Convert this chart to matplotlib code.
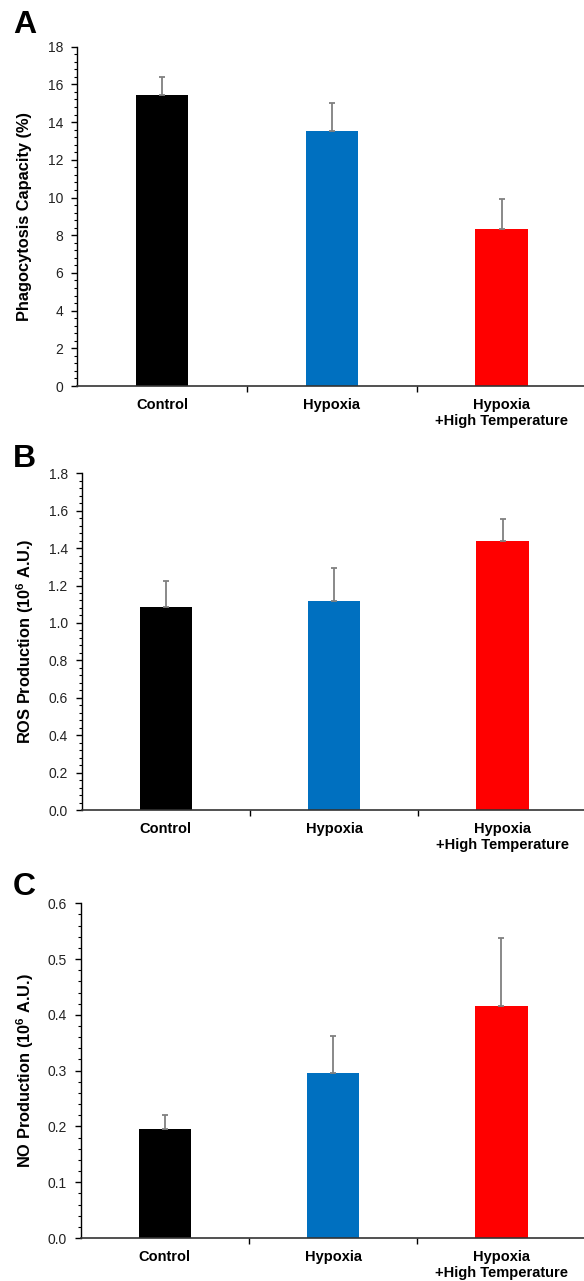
import matplotlib
matplotlib.use("Agg")
import matplotlib.pyplot as plt
from matplotlib.ticker import MultipleLocator

plt.rcParams['font.family'] = ['Liberation Sans', 'DejaVu Sans']
plt.rcParams['mathtext.fontset'] = 'custom'
plt.rcParams['mathtext.rm'] = 'Liberation Sans'
plt.rcParams['mathtext.bf'] = 'Liberation Sans:bold'

categories = ["Control", "Hypoxia", "Hypoxia\n+High Temperature"]
colors = ["#000000", "#0070C0", "#FF0000"]

phago_mean = [15.45, 13.53, 8.31]
phago_err = [0.92, 1.47, 1.59]

ros_mean = [1.084, 1.117, 1.436]
ros_err = [0.140, 0.177, 0.118]

no_mean = [0.195, 0.296, 0.416]
no_err = [0.026, 0.066, 0.122]

W, H = 584, 1281
fig = plt.figure(figsize=(W / 100, H / 100), dpi=100)

panels = [
    dict(letter="A", mean=phago_mean, err=phago_err, ymax=18, major=2, minor=0.4,
         fmt="{:.0f}", ylabel="Phagocytosis Capacity (%)",
         left=77.3, bottom=386, top=46.7, spacing=169.7, letter_base=33),
    dict(letter="B", mean=ros_mean, err=ros_err, ymax=1.8, major=0.2, minor=0.04,
         fmt="{:.1f}", ylabel=r"ROS Production (10$^{\mathbf{6}}$ A.U.)",
         left=81.6, bottom=810, top=473.3, spacing=168.4, letter_base=467),
    dict(letter="C", mean=no_mean, err=no_err, ymax=0.6, major=0.1, minor=0.02,
         fmt="{:.1f}", ylabel=r"NO Production (10$^{\mathbf{6}}$ A.U.)",
         left=80.7, bottom=1238, top=903.3, spacing=168.3, letter_base=895),
]

for p in panels:
    ax = fig.add_axes([p["left"] / W, 1 - p["bottom"] / H,
                       3 * p["spacing"] / W, (p["bottom"] - p["top"]) / H])
    x = list(range(len(categories)))
    ax.bar(x, p["mean"], width=0.31, color=colors, zorder=2)
    ax.errorbar(x, p["mean"], yerr=[[0] * 3, p["err"]], fmt="none",
                ecolor="#808080", elinewidth=1.3, capsize=2.3, capthick=1.3, zorder=3)
    ax.set_xlim(-0.5, 2.5)
    ax.set_ylim(0, p["ymax"])
    ax.yaxis.set_major_locator(MultipleLocator(p["major"]))
    ax.yaxis.set_minor_locator(MultipleLocator(p["minor"]))
    ticks = [i * p["major"] for i in range(int(round(p["ymax"] / p["major"])) + 1)]
    ax.set_yticks(ticks, [p["fmt"].format(t) for t in ticks])
    ax.set_xticks(x, categories, fontweight="bold", fontsize=10.5, linespacing=1.2)
    ax.set_xticks([0.5, 1.5, 2.5], minor=True)
    ax.tick_params(axis="x", which="major", length=0, pad=8.5)
    ax.tick_params(axis="x", which="minor", length=4, direction="out", width=1)
    ax.tick_params(axis="y", which="major", length=4, direction="out", width=1,
                   labelsize=10, labelcolor="#222222", pad=6)
    ax.tick_params(axis="y", which="minor", length=2.2, direction="out", width=0.8)
    for s in ["top", "right"]:
        ax.spines[s].set_visible(False)
    ax.spines["left"].set_linewidth(1)
    ax.spines["bottom"].set_linewidth(1.2)
    ax.spines["bottom"].set_color("#333333")
    yc = 1 - (p["bottom"] + p["top"]) / 2 / H
    fig.text(25 / W, yc, p["ylabel"], rotation=90, ha="center", va="center",
             fontsize=11.8, fontweight="bold")
    fig.text(13 / W, 1 - p["letter_base"] / H, p["letter"], ha="left", va="baseline",
             fontsize=23, fontweight="bold")

fig.savefig("out.png", dpi=100)
